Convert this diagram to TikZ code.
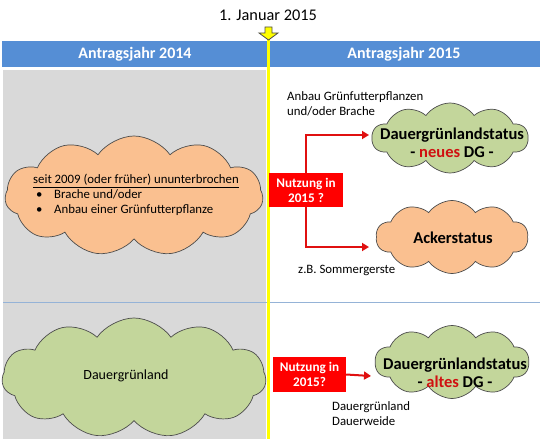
\documentclass[tikz,border=0pt]{standalone}
\usepackage{fontspec}
\setmainfont{Carlito}
\usetikzlibrary{shapes.symbols,arrows.meta}
\definecolor{hdrblue}{HTML}{558ED5}
\definecolor{panelgrey}{HTML}{D9D9D9}
\definecolor{cloudorange}{HTML}{FAC090}
\definecolor{cloudgreen}{HTML}{C3D69B}
\definecolor{boxred}{HTML}{FF0000}
\definecolor{arrred}{HTML}{E01010}
\definecolor{darkred}{HTML}{D01010}
\definecolor{sepline}{HTML}{95B3D7}
\definecolor{markyellow}{HTML}{FFFF00}
\begin{document}
\begin{tikzpicture}[x=1pt,y=-1pt,
  cloudbase/.style={cloud, cloud puffs=#1, cloud puff arc=110, cloud ignores aspect, draw=black!70, line width=0.7pt, inner sep=0pt},
  ocloud/.style={cloudbase=#1, fill=cloudorange},
  gcloud/.style={cloudbase=#1, fill=cloudgreen},
  txt/.style={inner sep=0pt, text=black},
  small/.style={txt, align=left, font=\fontsize{12.8}{15.5}\selectfont},
  cloudtitle/.style={txt, align=center, font=\bfseries\fontsize{16.5}{18}\selectfont},
  redbox/.style={fill=boxred, draw=none, text=white, font=\bfseries\fontsize{13.2}{15}\selectfont, align=center, inner sep=0pt},
  redarrow/.style={draw=arrred, line width=2pt, -{Triangle[length=7pt,width=8pt]}},
  hdr/.style={txt, text=white, font=\bfseries\fontsize{16}{18}\selectfont}
]
\useasboundingbox (0,0) rectangle (540,441);
\fill[white] (0,0) rectangle (540,441);

% header and panels
\fill[hdrblue] (2,41) rectangle (540,67);
\fill[panelgrey] (3,70) rectangle (266,439);
\draw[sepline, line width=0.8pt] (3,302) -- (540,302);
\draw[markyellow, line width=2.5pt] (268.5,34) -- (268.5,439);
\filldraw[fill=markyellow, draw=black!70, line width=0.8pt]
  (265,27) -- (272,27) -- (272,33) -- (278,33) -- (268.5,40) -- (259,33) -- (265,33) -- cycle;

\node[txt, font=\fontsize{16.3}{18}\selectfont] (title) at (268,15) {1. Januar 2015};
\node[hdr] (h1) at (135,54) {Antragsjahr 2014};
\node[hdr] (h2) at (404,54) {Antragsjahr 2015};

% upper part
\node[ocloud=11, minimum width=258pt, minimum height=120pt] (c1) at (134,196) {};
\node[small, font=\fontsize{12.8}{15}\selectfont] (t1) at (136,195) {\underline{seit 2009 (oder früher) ununterbrochen}\\
  \makebox[21pt][l]{\hspace{3pt}\textbullet}Brache und/oder\\
  \makebox[21pt][l]{\hspace{3pt}\textbullet}Anbau einer Grünfutterpflanze};

\node[small, anchor=west] (t2) at (287,104) {Anbau Grünfutterpflanzen\\und/oder Brache};

\node[gcloud=10, minimum width=156pt, minimum height=70pt] (g1) at (450,138) {};
\node[cloudtitle] (g1t) at (452,143) {Dauergrünlandstatus\\- \textcolor{darkred}{neues} DG -};

\node[redbox, minimum width=74pt, minimum height=34pt] (n1) at (306,190) {Nutzung in\\2015 ?};

\node[ocloud=10, minimum width=152pt, minimum height=73pt] (a1) at (452,237) {};
\node[cloudtitle] (a1t) at (453,238) {Ackerstatus};

\node[small, anchor=west] (t3) at (298,270) {z.B. Sommergerste};

\coordinate (e1) at (369,135);
\coordinate (e2) at (369,247);
\draw[redarrow] (n1.north) |- (e1);
\draw[redarrow] (n1.south) |- (e2);

% lower part
\node[gcloud=11, minimum width=264pt, minimum height=120pt] (g2) at (134,378) {};
\node[txt, font=\fontsize{14}{16}\selectfont] (g2t) at (126,376) {Dauergrünland};

\node[redbox, minimum width=73pt, minimum height=35pt] (n2) at (309.5,374.5) {Nutzung in\\2015?};

\node[gcloud=10, minimum width=154pt, minimum height=73pt] (g3) at (452,362) {};
\node[cloudtitle] (g3t) at (455,373) {Dauergrünlandstatus\\- \textcolor{darkred}{altes} DG -};

\coordinate (e3) at (371,376);
\draw[redarrow] (n2.east) -- (e3);

\node[small, anchor=north west] (t4) at (332,401) {Dauergrünland\\Dauerweide};
\end{tikzpicture}
\end{document}
